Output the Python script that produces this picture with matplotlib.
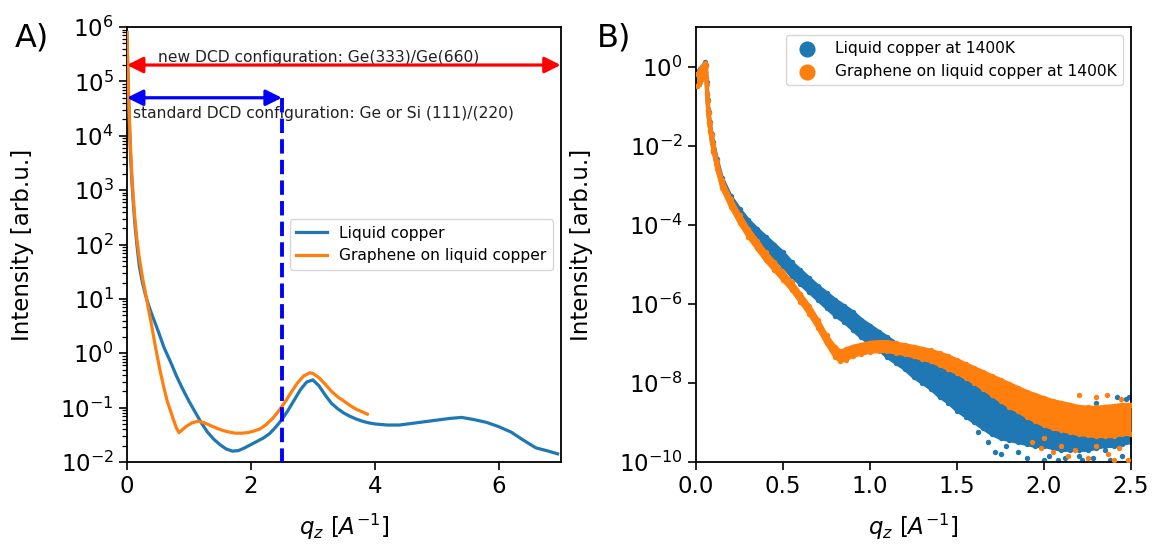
import numpy as np
import matplotlib
matplotlib.use("Agg")
import matplotlib.pyplot as plt
from matplotlib.ticker import FixedLocator, LogLocator, NullLocator, NullFormatter

BLUE = "#1f77b4"
ORANGE = "#ff7f0e"

# ---------------- Panel A: reflectivity curves (q_z in 1/A, log10 intensity) ----------------
qa_cu = [0.0, 0.01, 0.02, 0.04, 0.06, 0.08, 0.10, 0.13, 0.16, 0.20, 0.25, 0.30, 0.35, 0.40,
         0.50, 0.60, 0.70, 0.80, 0.90, 1.00, 1.10, 1.20, 1.30, 1.40, 1.50, 1.60, 1.70, 1.80,
         1.90, 2.00, 2.10, 2.20, 2.30, 2.40, 2.50, 2.60, 2.70, 2.80, 2.90, 3.00, 3.10, 3.20,
         3.30, 3.40, 3.50, 3.60, 3.70, 3.80, 3.90, 4.00, 4.20, 4.40, 4.60, 4.80, 5.00, 5.20,
         5.40, 5.60, 5.80, 6.00, 6.20, 6.40, 6.60, 6.80, 6.95]
loga_cu = [5.9, 5.4, 4.9, 4.2, 3.6, 3.15, 2.8, 2.35, 2.0, 1.6, 1.3, 1.07, 0.88, 0.72,
           0.42, 0.1, -0.15, -0.42, -0.66, -0.88, -1.08, -1.28, -1.45, -1.58, -1.68, -1.76, -1.8, -1.79,
           -1.74, -1.68, -1.62, -1.56, -1.48, -1.36, -1.22, -1.05, -0.86, -0.67, -0.53, -0.49, -0.6, -0.77,
           -0.92, -1.02, -1.1, -1.16, -1.21, -1.25, -1.28, -1.3, -1.32, -1.32, -1.29, -1.26, -1.23, -1.2,
           -1.18, -1.22, -1.27, -1.35, -1.45, -1.6, -1.74, -1.8, -1.85]

qa_gr = [0.0, 0.02, 0.04, 0.06, 0.08, 0.10, 0.13, 0.16, 0.20, 0.25, 0.30, 0.35, 0.40, 0.45,
         0.50, 0.55, 0.60, 0.65, 0.70, 0.75, 0.80, 0.84, 0.88, 0.95, 1.05, 1.15, 1.25, 1.35,
         1.45, 1.55, 1.65, 1.75, 1.85, 1.95, 2.05, 2.15, 2.25, 2.35, 2.45, 2.55, 2.65, 2.75,
         2.85, 2.95, 3.00, 3.10, 3.20, 3.30, 3.40, 3.50, 3.60, 3.70, 3.80, 3.88]
loga_gr = [5.9, 5.0, 4.3, 3.7, 3.25, 2.9, 2.45, 2.1, 1.75, 1.4, 1.1, 0.8, 0.5, 0.18,
           -0.12, -0.4, -0.65, -0.88, -1.05, -1.22, -1.38, -1.46, -1.42, -1.35, -1.28, -1.25, -1.28, -1.33,
           -1.38, -1.42, -1.45, -1.47, -1.47, -1.46, -1.43, -1.39, -1.31, -1.2, -1.06, -0.9, -0.72, -0.55,
           -0.42, -0.36, -0.37, -0.45, -0.57, -0.7, -0.8, -0.88, -0.96, -1.03, -1.08, -1.12]

# Monochromator ranges shown as arrows
q_new_dcd = 7.0
q_std_dcd = 2.5
y_new_dcd = 2.0e5
y_std_dcd = 5.0e4

# ---------------- Panel B: scattered data at 1400 K (envelope of the point cloud, log10) ----------------
qb_cu = [0.005, 0.015, 0.025, 0.035, 0.045, 0.052, 0.058, 0.063, 0.068, 0.074, 0.08, 0.09, 0.10,
         0.12, 0.15, 0.20, 0.25, 0.30, 0.35, 0.40, 0.45, 0.50, 0.55, 0.60, 0.65, 0.70, 0.75,
         0.80, 0.85, 0.90, 0.95, 1.00, 1.05, 1.10, 1.15, 1.20, 1.25, 1.30, 1.35, 1.40, 1.45,
         1.50, 1.55, 1.60, 1.65, 1.70, 1.75, 1.80, 1.85, 1.90, 1.95, 2.00, 2.05, 2.10, 2.15,
         2.20, 2.25, 2.30, 2.35, 2.40, 2.45, 2.50]
cu_lo = [-0.5, -0.45, -0.35, -0.3, -0.25, -0.15, -0.3, -0.7, -1.1, -1.4, -1.6, -1.9, -2.12,
         -2.55, -3.05, -3.5, -3.85, -4.15, -4.4, -4.62, -4.85, -5.05, -5.3, -5.5, -5.7, -5.9, -6.1,
         -6.3, -6.45, -6.65, -6.85, -7.0, -7.15, -7.35, -7.5, -7.65, -7.85, -8.0, -8.15, -8.35, -8.5,
         -8.7, -8.85, -9.0, -9.15, -9.3, -9.4, -9.45, -9.5, -9.55, -9.6, -9.6, -9.65, -9.7, -9.7,
         -9.7, -9.7, -9.65, -9.6, -9.6, -9.55, -9.5]
cu_hi = [-0.15, -0.1, -0.05, 0.0, 0.05, 0.12, 0.05, -0.4, -0.85, -1.15, -1.4, -1.7, -1.92,
         -2.33, -2.82, -3.28, -3.6, -3.88, -4.1, -4.3, -4.5, -4.7, -4.95, -5.15, -5.35, -5.55, -5.72,
         -5.9, -6.05, -6.2, -6.4, -6.55, -6.7, -6.85, -7.0, -7.15, -7.25, -7.35, -7.45, -7.6, -7.7,
         -7.85, -7.95, -8.1, -8.2, -8.3, -8.4, -8.5, -8.6, -8.7, -8.75, -8.8, -8.85, -8.85, -8.85,
         -8.85, -8.8, -8.75, -8.7, -8.65, -8.6, -8.6]

qb_gr = [0.005, 0.015, 0.025, 0.035, 0.045, 0.052, 0.058, 0.063, 0.068, 0.074, 0.08, 0.09, 0.10,
         0.12, 0.15, 0.20, 0.25, 0.30, 0.35, 0.40, 0.45, 0.50, 0.55, 0.60, 0.65, 0.70, 0.75,
         0.80, 0.83, 0.86, 0.90, 0.95, 1.00, 1.05, 1.10, 1.15, 1.20, 1.25, 1.30, 1.35, 1.40,
         1.45, 1.50, 1.55, 1.60, 1.65, 1.70, 1.75, 1.80, 1.85, 1.90, 1.95, 2.00, 2.05, 2.10,
         2.15, 2.20, 2.25, 2.30, 2.35, 2.40, 2.45, 2.50]
gr_lo = [-0.5, -0.45, -0.38, -0.32, -0.25, -0.15, -0.3, -0.72, -1.12, -1.42, -1.62, -1.92, -2.15,
         -2.58, -3.08, -3.55, -3.95, -4.3, -4.6, -4.9, -5.15, -5.4, -5.65, -5.95, -6.25, -6.6, -7.0,
         -7.35, -7.45, -7.42, -7.32, -7.27, -7.22, -7.2, -7.2, -7.24, -7.28, -7.33, -7.4, -7.45, -7.55,
         -7.65, -7.75, -7.87, -8.0, -8.15, -8.3, -8.45, -8.6, -8.72, -8.85, -8.97, -9.07, -9.15, -9.2,
         -9.25, -9.3, -9.32, -9.35, -9.35, -9.35, -9.3, -9.3]
gr_hi = [-0.2, -0.15, -0.08, -0.02, 0.05, 0.1, 0.02, -0.45, -0.88, -1.18, -1.42, -1.72, -1.95,
         -2.38, -2.88, -3.35, -3.75, -4.1, -4.4, -4.7, -4.95, -5.2, -5.45, -5.75, -6.05, -6.4, -6.8,
         -7.1, -7.2, -7.15, -7.08, -7.03, -6.98, -6.96, -6.96, -7.0, -7.04, -7.08, -7.13, -7.18, -7.25,
         -7.32, -7.42, -7.52, -7.62, -7.72, -7.82, -7.92, -8.02, -8.12, -8.22, -8.3, -8.38, -8.45, -8.5,
         -8.55, -8.6, -8.62, -8.62, -8.6, -8.58, -8.55, -8.55]

# Isolated points away from the dense cloud
cu_out_q = [1.62, 1.68, 1.72, 1.75, 1.78, 1.85, 1.90, 1.93, 2.00, 2.03, 2.08, 2.12, 2.20, 2.22,
            2.28, 2.35, 2.38, 2.45, 2.30, 2.42, 2.47, 2.49]
cu_out_log = [-9.25, -9.5, -9.75, -9.8, -9.6, -9.75, -9.9, -9.55, -9.95, -9.85, -9.95, -9.9, -9.85, -9.95,
              -9.9, -9.7, -9.95, -9.85, -8.5, -8.35, -8.4, -8.35]
gr_out_q = [1.93, 1.98, 2.00, 2.05, 2.10, 2.14, 2.18, 2.25, 2.30, 2.37, 2.40, 2.43, 2.48,
            2.20, 2.30, 2.36, 2.44]
gr_out_log = [-9.5, -9.65, -9.4, -9.75, -9.6, -9.85, -9.7, -9.9, -9.6, -9.8, -9.95, -9.65, -9.95,
              -8.3, -8.35, -8.3, -8.4]

# ---------------- figure ----------------
plt.rcParams["font.family"] = ["DejaVu Sans"]
fig = plt.figure(figsize=(11.52, 5.47), dpi=100)
axA = fig.add_axes([0.1102, 0.1554, 0.3765, 0.7952])
axB = fig.add_axes([0.6042, 0.1554, 0.3776, 0.7952])

TICK_FS = 16.5
LABEL_FS = 16.5

# Panel A
axA.plot(qa_cu, 10.0 ** np.asarray(loga_cu), color=BLUE, lw=2.3, label="Liquid copper", zorder=3)
axA.plot(qa_gr, 10.0 ** np.asarray(loga_gr), color=ORANGE, lw=2.3,
         label="Graphene on liquid copper", zorder=3)

axA.annotate("", xy=(0.0, y_new_dcd), xytext=(q_new_dcd, y_new_dcd),
             arrowprops=dict(arrowstyle="<|-|>", color="red", lw=2.3, mutation_scale=24,
                             shrinkA=0, shrinkB=0), zorder=4, annotation_clip=False)
axA.annotate("", xy=(0.0, y_std_dcd), xytext=(q_std_dcd, y_std_dcd),
             arrowprops=dict(arrowstyle="<|-|>", color="blue", lw=2.3, mutation_scale=24,
                             shrinkA=0, shrinkB=0), zorder=4)
axA.plot([q_std_dcd, q_std_dcd], [y_std_dcd, 1e-2], color="blue", lw=2.8, ls="--", zorder=4)
axA.text(0.5, y_new_dcd * 1.12, "new DCD configuration: Ge(333)/Ge(660)", fontsize=11.2,
         color="#222222", ha="left", va="baseline")
axA.text(0.1, y_std_dcd / 1.4, "standard DCD configuration: Ge or Si (111)/(220)", fontsize=11.2,
         color="#222222", ha="left", va="top")

axA.set_yscale("log")
axA.set_xlim(0, 7)
axA.set_ylim(1e-2, 1e6)
axA.xaxis.set_major_locator(FixedLocator([0, 2, 4, 6]))
axA.yaxis.set_major_locator(LogLocator(base=10, numticks=20))
axA.yaxis.set_minor_locator(LogLocator(base=10, subs=np.arange(2, 10), numticks=20))
axA.yaxis.set_minor_formatter(NullFormatter())
axA.set_xlabel(r"$q_z\ [A^{-1}]$", fontsize=LABEL_FS)
axA.set_ylabel("Intensity [arb.u.]", fontsize=LABEL_FS)
axA.legend(loc="center right", fontsize=11.2, handlelength=2.0, borderpad=0.4)


# Panel B: each point cloud drawn as its filled envelope with dotted edges
def draw_cloud(ax, q, lo, hi, oq, olog, color, label, z):
    q = np.asarray(q)
    lo_v = 10.0 ** np.asarray(lo)
    hi_v = 10.0 ** np.asarray(hi)
    ax.fill_between(q, lo_v, hi_v, color=color, lw=0, zorder=z)
    ax.plot(q, lo_v, color=color, lw=2.6, solid_capstyle="round", zorder=z)
    ax.plot(q, hi_v, color=color, lw=2.6, solid_capstyle="round", zorder=z)
    ax.scatter(np.concatenate([q, q, oq]),
               np.concatenate([lo_v, hi_v, 10.0 ** np.asarray(olog)]),
               s=15, color=color, lw=0, zorder=z, label=label)


draw_cloud(axB, qb_cu, cu_lo, cu_hi, cu_out_q, cu_out_log, BLUE, "Liquid copper at 1400K", 2)
draw_cloud(axB, qb_gr, gr_lo, gr_hi, gr_out_q, gr_out_log, ORANGE,
           "Graphene on liquid copper at 1400K", 3)

axB.set_yscale("log")
axB.set_xlim(0, 2.5)
axB.set_ylim(1e-10, 1e1)
axB.xaxis.set_major_locator(FixedLocator([0.0, 0.5, 1.0, 1.5, 2.0, 2.5]))
axB.yaxis.set_major_locator(FixedLocator([1e-10, 1e-8, 1e-6, 1e-4, 1e-2, 1e0]))
axB.yaxis.set_minor_locator(NullLocator())
axB.set_xlabel(r"$q_z\ [A^{-1}]$", fontsize=LABEL_FS)
axB.set_ylabel("Intensity [arb.u.]", fontsize=LABEL_FS)
axB.legend(loc="upper right", fontsize=11.2, markerscale=3.0, borderpad=0.4)

for ax, ylx in ((axA, -0.215), (axB, -0.237)):
    ax.tick_params(axis="both", which="major", labelsize=TICK_FS, length=6, width=1.2)
    ax.tick_params(axis="both", which="minor", length=3.5, width=0.9)
    for s in ax.spines.values():
        s.set_linewidth(1.3)
    ax.yaxis.set_label_coords(ylx, 0.5)
    ax.xaxis.set_label_coords(0.5, -0.115)

fig.text(0.013, 0.93, "A)", fontsize=23, ha="left", va="center")
fig.text(0.518, 0.93, "B)", fontsize=23, ha="left", va="center")

fig.savefig("out.png", dpi=100)
